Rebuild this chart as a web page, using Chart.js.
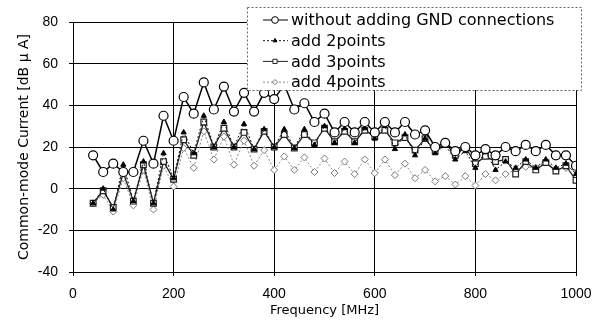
<!DOCTYPE html>
<html>
<head>
<meta charset="utf-8">
<title>Common-mode current</title>
<script src="https://cdn.jsdelivr.net/npm/chart.js@4.4.1/dist/chart.umd.min.js"></script>
<style>
  html, body { margin: 0; padding: 0; background: #fff; }
  #cmChart { display: block; }
</style>
</head>
<body>
<canvas id="cmChart" width="594" height="325"></canvas>
<script>
// frequency points [MHz]
const freqs = [40, 60, 80, 100, 120, 140, 160, 180, 200, 220, 240, 260, 280, 300, 320, 340, 360,
  380, 400, 420, 440, 460, 480, 500, 520, 540, 560, 580, 600, 620, 640, 660, 680, 700, 720,
  740, 760, 780, 800, 820, 840, 860, 880, 900, 920, 940, 960, 980, 1000];

// common-mode current [dBuA]
const noGnd = [16, 8, 12, 8, 8, 23, 12, 35, 23, 44, 36, 51, 38, 49, 37, 46, 37,
  46, 43, 50, 38, 41, 32, 36, 27, 32, 27, 32, 27, 32, 27, 32, 26, 28, 20,
  22, 18, 20, 16, 19, 16, 20, 18, 21, 18, 21, 16, 16, 11];
const add2 = [-7, 0, -10, 11.5, -6, 13, -7, 17, 5, 27, 17, 35, 20, 32, 20, 31, 19,
  28.5, 20, 28.5, 19.5, 28.5, 21, 30, 22, 29, 22, 29, 24, 30, 19, 26, 16, 24, 17,
  21, 14, 18, 10, 18, 9, 13, 10, 14, 10, 14, 10, 12, 7];
const add3 = [-7, -1, -9, 7.5, -6, 11.5, -7, 13, 4.5, 23.5, 16, 32, 20, 29, 20, 27, 19,
  27.5, 20, 26, 19.5, 26, 22, 29, 22.5, 27.5, 22.5, 28, 25, 28, 22, 24.5, 18.5, 24, 18,
  22, 16, 20, 12, 15.5, 13, 14, 7, 13, 9, 12.5, 8.5, 11, 4];
const add4 = [-7, -3, -11, 5, -8, 9, -10, 11, 1, 19.5, 10, 27.5, 14, 25, 11.5, 23, 11,
  18.5, 9, 15.5, 9, 15, 8, 14.5, 7.5, 13, 7, 14, 7.5, 14, 6.5, 12, 5, 9, 3.5,
  6, 2, 6, 1.5, 7, 4, 7, 9, 10.5, 10, 13, 9, 10, 9];

const seriesNames = [
  'without adding GND connections',
  'add 2points',
  'add 3points',
  'add 4points'
];

const yTicks = { min: -40, max: 80, step: 20 };
const xTicks = { min: 0, max: 1000, step: 200 };

function pts(vals) {
  return freqs.map((f, i) => ({ x: f, y: vals[i] }));
}

const datasets = [
  {
    label: seriesNames[0], data: pts(noGnd),
    borderColor: '#000', borderWidth: 1.5,
    pointStyle: 'circle', pointRadius: 4.5,
    pointBackgroundColor: '#fff', pointBorderColor: '#000', pointBorderWidth: 1.2
  },
  {
    label: seriesNames[1], data: pts(add2),
    borderColor: '#111', borderWidth: 1, borderDash: [2, 2],
    pointStyle: 'triangle', pointRadius: 3,
    pointBackgroundColor: '#000', pointBorderColor: '#000', pointBorderWidth: 1
  },
  {
    label: seriesNames[2], data: pts(add3),
    borderColor: '#222', borderWidth: 1.3,
    pointStyle: 'rect', pointRadius: 4,
    pointBackgroundColor: '#fff', pointBorderColor: '#222', pointBorderWidth: 1.2
  },
  {
    label: seriesNames[3], data: pts(add4),
    borderColor: '#888', borderWidth: 1, borderDash: [2, 2],
    pointStyle: 'rectRot', pointRadius: 3.5,
    pointBackgroundColor: '#fff', pointBorderColor: '#777', pointBorderWidth: 1
  }
];

// legend box drawn over the plot, like the original
const boxLegend = {
  id: 'boxLegend',
  afterDraw(chart) {
    const ctx = chart.ctx;
    ctx.save();
    ctx.fillStyle = '#fff';
    ctx.fillRect(247, 7, 335, 83);
    ctx.setLineDash([2, 2]);
    ctx.strokeStyle = '#666';
    ctx.lineWidth = 1;
    ctx.strokeRect(247.5, 7.5, 334, 83);

    chart.data.datasets.forEach((ds, i) => {
      const y = 20 + i * 20.7;
      ctx.setLineDash(ds.borderDash || []);
      ctx.strokeStyle = ds.borderColor;
      ctx.lineWidth = 1;
      ctx.beginPath();
      ctx.moveTo(263, y);
      ctx.lineTo(288, y);
      ctx.stroke();
      ctx.setLineDash([]);

      ctx.fillStyle = ds.pointBackgroundColor;
      ctx.strokeStyle = ds.pointBorderColor;
      ctx.lineWidth = 1;
      if (Chart.helpers && Chart.helpers.drawPoint) {
        Chart.helpers.drawPoint(ctx, {
          pointStyle: ds.pointStyle, radius: ds.pointRadius * 0.75,
          rotation: 0, borderWidth: 1
        }, 275, y);
      }

      ctx.fillStyle = '#000';
      ctx.font = '16px "DejaVu Sans"';
      ctx.textAlign = 'left';
      ctx.textBaseline = 'middle';
      ctx.fillText(ds.label, 291, y + 1);
    });
    ctx.restore();
  }
};

const config = {
  type: 'line',
  data: { datasets: datasets },
  options: {
    responsive: false,
    animation: false,
    devicePixelRatio: 1,
    layout: { padding: { left: 0, right: 18, top: 22, bottom: 0 } },
    plugins: {
      legend: { display: false },
      tooltip: { enabled: false }
    },
    elements: { line: { tension: 0 } },
    scales: {
      x: {
        type: 'linear',
        min: xTicks.min, max: xTicks.max,
        ticks: {
          stepSize: xTicks.step, color: '#000', padding: 10, maxRotation: 0,
          font: { family: 'Liberation Sans', size: 14 },
          callback: (v) => String(v)
        },
        grid: { color: '#000', lineWidth: 1, tickLength: 4 },
        border: { color: '#000', width: 1 },
        title: {
          display: true, text: 'Frequency [MHz]', color: '#000',
          font: { family: 'DejaVu Sans', size: 13 },
          padding: { top: 0, bottom: 7 }
        },
        afterFit(scale) {
          scale.height = 53;
          scale.paddingLeft = 0;
          scale.paddingRight = 0;
        }
      },
      y: {
        min: yTicks.min, max: yTicks.max,
        ticks: {
          stepSize: yTicks.step, color: '#000', padding: 11,
          font: { family: 'Liberation Sans', size: 14 }
        },
        grid: { color: '#000', lineWidth: 1, tickLength: 4 },
        border: { color: '#000', width: 1 },
        title: {
          display: true, text: 'Common-mode Current [dB \u03bc A]', color: '#000',
          font: { family: 'DejaVu Sans', size: 14 },
          padding: { top: 16, bottom: 0 }
        },
        afterFit(scale) { scale.width = 73; }
      }
    }
  },
  plugins: [boxLegend]
};

const cmChart = new Chart(document.getElementById('cmChart'), config);
</script>
</body>
</html>
